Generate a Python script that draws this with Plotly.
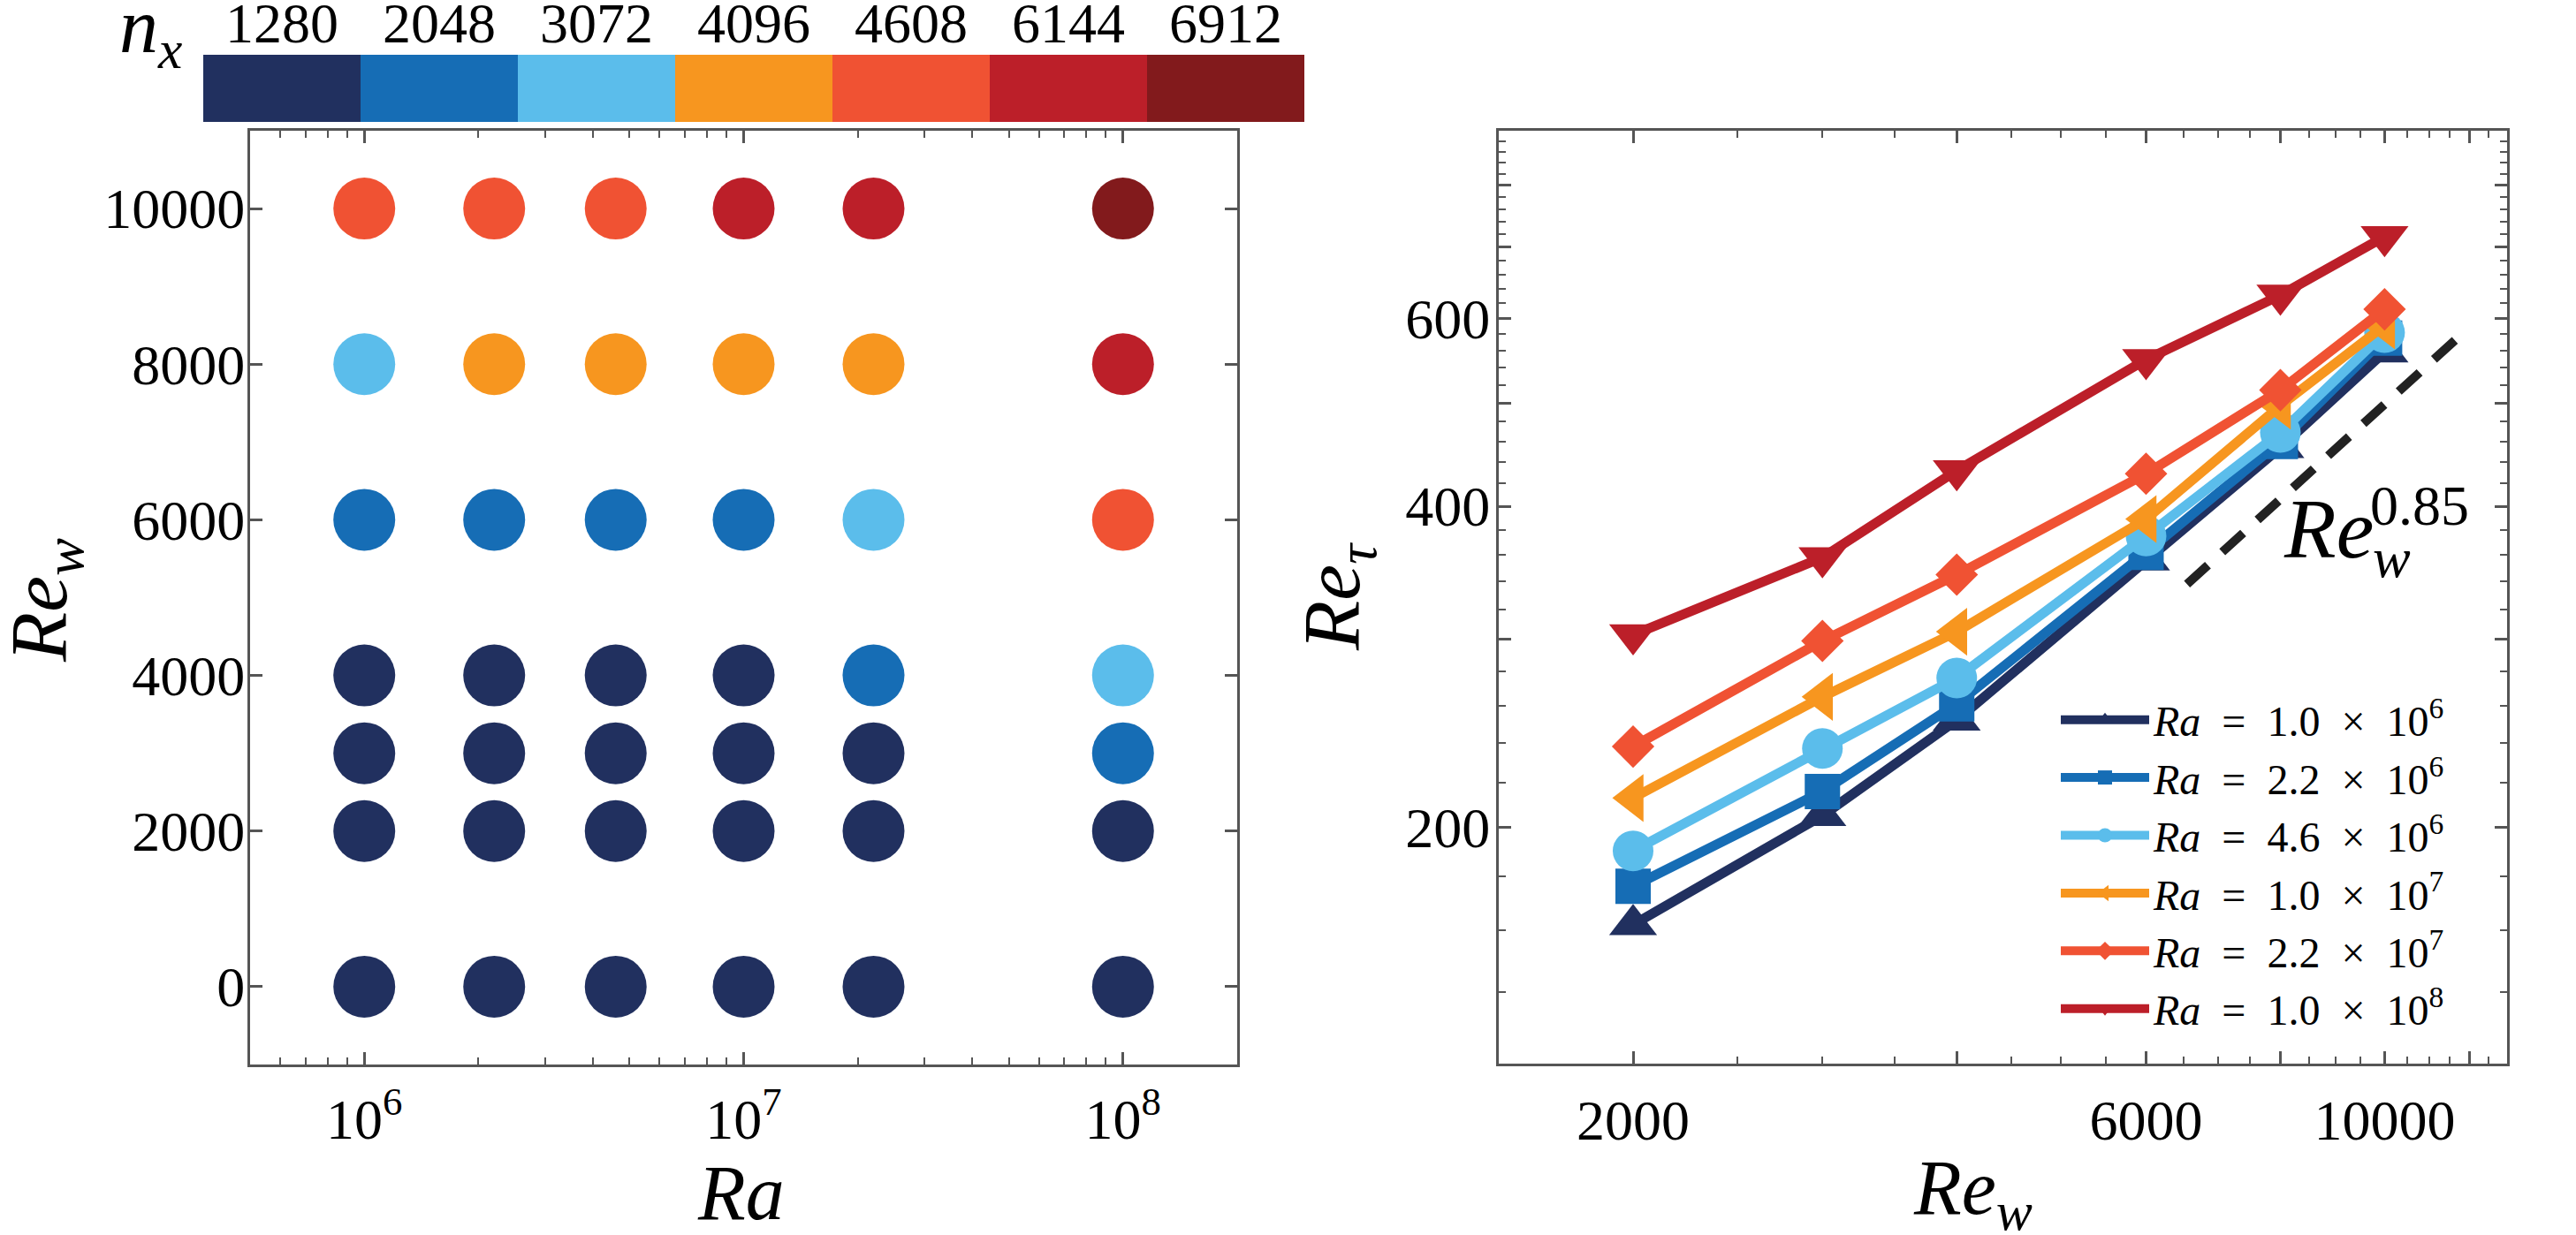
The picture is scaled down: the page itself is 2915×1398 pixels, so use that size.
import math
import plotly.graph_objects as go

W, H = 2915, 1398
FONT = "Liberation Serif"
AX = "#555555"

# ---------------- data ----------------
nx_levels = [1280, 2048, 3072, 4096, 4608, 6144, 6912]
nx_colors = ["#21305F", "#166DB5", "#5BBDEB", "#F7961F", "#F05233", "#BC1F29", "#821A1C"]

ra_grid = [1e6, 2.2e6, 4.6e6, 1e7, 2.2e7, 1e8]
rew_grid = [0, 2000, 3000, 4000, 6000, 8000, 10000]
nx_grid = [  # rows follow rew_grid, columns follow ra_grid
    [1280, 1280, 1280, 1280, 1280, 1280],
    [1280, 1280, 1280, 1280, 1280, 1280],
    [1280, 1280, 1280, 1280, 1280, 2048],
    [1280, 1280, 1280, 1280, 2048, 3072],
    [2048, 2048, 2048, 2048, 3072, 4608],
    [3072, 4096, 4096, 4096, 4096, 6144],
    [4608, 4608, 4608, 6144, 6144, 6912],
]
left_yticks = [0, 2000, 4000, 6000, 8000, 10000]

re_w = [2000, 3000, 4000, 6000, 8000, 10000]
ret_ra_1_0e6 = [162, 205, 252, 356, 454, 558]
ret_ra_2_2e6 = [176, 216, 261, 362, 460, 575]
ret_ra_4_6e6 = [190, 237, 276, 375, 469, 582]
ret_ra_1_0e7 = [213, 265, 305, 389, 497, 591]
ret_ra_2_2e7 = [238, 299, 345, 429, 514, 612]
ret_ra_1_0e8 = [303, 358, 432, 549, 631, 716]
series_mant = ["1.0", "2.2", "4.6", "1.0", "2.2", "1.0"]
series_exp = ["6", "6", "6", "7", "7", "8"]
series_values = [ret_ra_1_0e6, ret_ra_2_2e6, ret_ra_4_6e6, ret_ra_1_0e7, ret_ra_2_2e7, ret_ra_1_0e8]
series_colors = ["#21305F", "#166DB5", "#5BBDEB", "#F7961F", "#F05233", "#BC1F29"]
series_symbols = ["triangle-up", "square", "circle", "triangle-left", "diamond", "triangle-down"]
series_sizes = [47, 40, 46, 47, 37, 47]

ref_x = [6550, 11950]
ref_y = [338, 587]

# ---------------- figure ----------------
fig = go.Figure()

color_of = dict(zip(nx_levels, nx_colors))
xs, ys, cs = [], [], []
for i, rw in enumerate(rew_grid):
    for j, ra in enumerate(ra_grid):
        xs.append(ra)
        ys.append(rw)
        cs.append(color_of[nx_grid[i][j]])
fig.add_trace(go.Scatter(x=xs, y=ys, mode="markers", showlegend=False,
                         marker=dict(size=70, color=cs, line=dict(width=0)),
                         xaxis="x", yaxis="y"))

# discrete colour bar
n = len(nx_colors)
cscale = []
for k, c in enumerate(nx_colors):
    cscale.append([k / n, c])
    cscale.append([(k + 1) / n, c])
fig.add_trace(go.Heatmap(z=[list(range(n))], x=[str(v) for v in nx_levels], y=[0],
                         colorscale=cscale, zmin=-0.5, zmax=n - 0.5, showscale=False,
                         hoverinfo="skip", xaxis="x3", yaxis="y3"))

SP = "\u2002"
for m, e, vals, col, sym, sz in zip(series_mant, series_exp, series_values, series_colors,
                                    series_symbols, series_sizes):
    fig.add_trace(go.Scatter(x=re_w, y=vals, mode="lines+markers",
                             name=f"<i>Ra</i>{SP}={SP}{m}{SP}×{SP}10<sup>{e}</sup>",
                             line=dict(color=col, width=11),
                             marker=dict(symbol=sym, size=sz, color=col, line=dict(width=0)),
                             xaxis="x2", yaxis="y2"))

fig.add_trace(go.Scatter(x=ref_x, y=ref_y, mode="lines", showlegend=False,
                         line=dict(color="#222222", width=10, dash="32px,22px"),
                         xaxis="x2", yaxis="y2"))


def px(x):
    return x / W


def py(y):
    return 1 - y / H


common = dict(showline=True, linecolor=AX, linewidth=3, mirror="allticks",
              ticks="inside", ticklen=14, tickwidth=3, tickcolor=AX,
              showgrid=False, zeroline=False, automargin=False,
              tickfont=dict(family=FONT, size=64, color="black"))

minor_left = [m * 10 ** e for e in (5, 6, 7) for m in range(2, 10) if 5e5 < m * 10 ** e < 2e8]
minor_rx = [v for v in range(1500, 13001, 500) if v % 2000 != 0 and 1500 < v < 13000]
minor_ry = [v for v in range(120, 901, 20) if v % 100 != 0 and 120 < v < 900]
minor_style = dict(ticks="inside", ticklen=8, tickwidth=2, tickcolor=AX)

fig.update_layout(
    width=W, height=H,
    margin=dict(l=0, r=0, t=0, b=0, autoexpand=False),
    paper_bgcolor="white", plot_bgcolor="white",
    font=dict(family=FONT, color="black"),
    xaxis=dict(domain=[px(283), px(1400)], anchor="y", type="log",
               range=[math.log10(5e5), math.log10(2e8)],
               tickvals=[1e6, 1e7, 1e8],
               ticktext=["10<sup>6</sup>", "10<sup>7</sup>", "10<sup>8</sup>"],
               minor=dict(tickvals=minor_left, **minor_style),
               ticklabelstandoff=4, **common),
    yaxis=dict(domain=[py(1205), py(148)], anchor="x", range=[-1000, 11000],
               tickvals=left_yticks, ticktext=[str(v) for v in left_yticks],
               ticklabelstandoff=-10, **common),
    xaxis2=dict(domain=[px(1696), px(2837)], anchor="y2", type="log",
                range=[math.log10(1500), math.log10(13000)],
                tickvals=[2000, 4000, 6000, 8000, 10000, 12000],
                ticktext=["2000", "", "6000", "", "10000", ""],
                minor=dict(tickvals=minor_rx, **minor_style),
                ticklabelstandoff=6, **common),
    yaxis2=dict(domain=[py(1204), py(148)], anchor="x2", type="log",
                range=[math.log10(120), math.log10(900)],
                tickvals=[200, 300, 400, 500, 600, 700, 800],
                ticktext=["200", "", "400", "", "600", "", ""],
                minor=dict(tickvals=minor_ry, **minor_style),
                ticklabelstandoff=-6, **common),
    xaxis3=dict(domain=[px(230), px(1476)], anchor="y3", side="top", type="category",
                showline=False, ticks="", showgrid=False, zeroline=False,
                ticklabelstandoff=0, automargin=False,
                tickfont=dict(family=FONT, size=64, color="black")),
    yaxis3=dict(domain=[py(138), py(62)], anchor="x3", visible=False, automargin=False),
    legend=dict(x=px(2327), y=py(777), xanchor="left", yanchor="top",
                font=dict(family=FONT, size=48, color="black"),
                bgcolor="rgba(0,0,0,0)", tracegroupgap=0, itemwidth=100),
    showlegend=True,
)

ann = []


def add_text(text, x, y, size, angle=0, xanchor="center", yanchor="middle"):
    ann.append(dict(text=text, x=px(x), y=py(y), xref="paper", yref="paper",
                    showarrow=False, textangle=angle, xanchor=xanchor, yanchor=yanchor,
                    font=dict(family=FONT, size=size, color="black")))


add_text("<i>n</i><sub><i>x</i></sub>", 208, 36, 88, xanchor="right")
add_text("<i>Re</i><sub><i>w</i></sub>", 50, 680, 92, angle=-90)
add_text("<i>Ra</i>", 838, 1350, 88)
add_text("<i>Re</i><sub><i>τ</i></sub>", 1513, 676, 92, angle=-90)
add_text("<i>Re</i><sub><i>w</i></sub>", 2232, 1350, 88)
add_text("<i>Re</i>", 2688, 598, 96, xanchor="right")
add_text("<i>w</i>", 2683, 632, 64, xanchor="left")
add_text("0.85", 2680, 572, 64, xanchor="left")
fig.update_layout(annotations=ann)

fig.write_html("out.html")
